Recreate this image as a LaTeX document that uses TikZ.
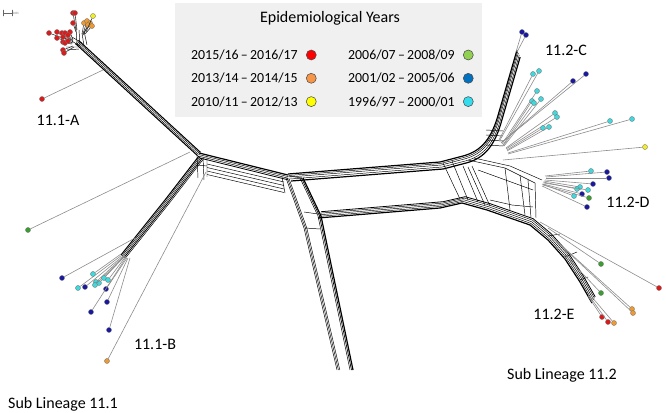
\documentclass[tikz,border=0pt]{standalone}
\usepackage{fontspec}
\setmainfont{Carlito}
\usepackage{tikz}
\usetikzlibrary{positioning}

\definecolor{kred}{HTML}{FF0000}
\definecolor{korange}{HTML}{F79646}
\definecolor{kyellow}{HTML}{FFFF00}
\definecolor{kgreen}{HTML}{92D050}
\definecolor{kblue}{HTML}{0070C0}
\definecolor{kcyan}{HTML}{33DDEE}
\definecolor{tred}{HTML}{DD1A1A}
\definecolor{torange}{HTML}{EE9A33}
\definecolor{tyellow}{HTML}{F2EE22}
\definecolor{tgreen}{HTML}{3A9E32}
\definecolor{tblue}{HTML}{1818A0}
\definecolor{tcyan}{HTML}{40D8DC}
\definecolor{legbg}{HTML}{F0F0F0}

\begin{document}
\begin{tikzpicture}[x=0.75pt, y=-0.75pt,
                  net/.style={line width=0.35pt, black},
                  twig/.style={line width=0.4pt, black!85},
                  leaf/.style={line width=0.45pt, black!45},
                  dot/.style={circle, draw=black!55, line width=0.25pt, inner sep=0pt, minimum size=3.8pt},
                  key/.style={circle, draw=black!70, line width=0.4pt, inner sep=0pt, minimum size=7.5pt},
                  yr/.style={font=\fontsize{10.4}{12}\selectfont, inner sep=0pt, anchor=east},
                  lab/.style={font=\fontsize{12}{14}\selectfont, inner sep=0pt},
            ]
            \useasboundingbox (0,0) rectangle (666,413);

            % ---- legend ----
            \node[fill=legbg, inner sep=0pt, minimum width=230.25pt, minimum height=85.5pt] (legend) at (328.5,60) {};
            \node[font=\fontsize{12}{14}\selectfont] (ltitle) at (330,18) {Epidemiological Years};
            \foreach \t/\c [count=\i] in {{2015/16\,--\,2016/17}/kred, {2013/14\,--\,2014/15}/korange,
                        {2010/11\,--\,2012/13}/kyellow}{
                        \node[yr] (l\i) at (298, {31.7+23.3*\i}) {\t};
                        \node[key, fill=\c, right=6pt of l\i] (lk\i) {};
                  }
            \foreach \t/\c [count=\i] in {{2006/07\,--\,2008/09}/kgreen, {2001/02\,--\,2005/06}/kblue,
                        {1996/97\,--\,2000/01}/kcyan}{
                        \node[yr] (r\i) at (455, {31.7+23.3*\i}) {\t};
                        \node[key, fill=\c, right=6pt of r\i] (rk\i) {};
                  }

            % ---- scale bar ----
            \coordinate (s0) at (3,13);
            \coordinate (s1) at (12,13);
            \draw[line width=0.3pt, black!60, |-|] (s0) -- (s1)
            node[right=0.5pt, font=\fontsize{2.5}{3}\selectfont, black!60, inner sep=0pt] (sbar) {0.01};

            % ---- bundle 11.1-A ----
            \foreach \k/\w in {-2/0.8pt, -0.7/0.35pt, 0.7/0.35pt, 2/0.8pt}{
                        \draw[net, line width=\w, shift={(\k*0.75,-\k*0.8)}] (77,42) -- (199,154);
                  }
            \draw[net] (70,40) -- (80,46);
            \draw[net] (72,37) -- (82,43);
            \draw[net] (76,28) -- (77,44) (79,30) -- (80,45);
            \draw[net] (82,33) -- (84,46) (84,31) -- (87,45);
            \draw[net] (66,47) -- (78,47) (67,50) -- (79,49);

            % ---- junction / bundle 11.1-B ----
            \draw[net] (197,155) -- (198,178) (203,157) -- (204,180) (197,165) -- (207,166);
            \foreach \k/\w in {0/0.8pt, 1.3/0.35pt, 2.6/0.35pt, 3.9/0.6pt, 5.2/0.35pt}{
                        \draw[net, line width=\w, shift={(\k*0.8,\k*0.65)}] (199,156) -- (165,200) -- (121,255);
                  }

            % ---- central bundles ----
            \foreach \k/\w in {0/0.9pt, 1.6/0.35pt, 3.2/0.35pt, 4.8/0.6pt}{
                        \draw[net, line width=\w] (199,{153+\k}) -- (288,{175+\k});
                  }
            \foreach \k in {0,3.5,7,10.5}{
                        \draw[net] (207,{164+\k}) -- (284,{182+\k});
                  }
            \draw[net] (207,156) -- (207,177) (282,177) -- (285,193);
            % vertical branch
            \foreach \k/\w in {0/0.35pt, 1.4/0.35pt, 2.8/0.35pt}{
                        \draw[net, line width=\w, shift={(\k,0)}] (286,178) -- (304,228) -- (337,370);
                  }
            \foreach \k/\w in {0/0.35pt, 1.5/0.5pt, 3/0.9pt}{
                        \draw[net, line width=\w, shift={(\k,0)}] (300,178) -- (318,216) -- (350,370);
                  }
            \draw[net] (304,212) -- (318,214) (305,228) -- (320,229) (288,176) -- (302,178);

            % ---- upper bundle to 11.2-C ----
            \foreach \k/\w in {0/0.9pt, 1.5/0.35pt, 3/0.35pt, 5/0.35pt, 7/0.9pt}{
                        \draw[net, line width=\w, shift={(\k*0.45,\k)}] (288,174) -- (440,162) -- (463,156)
                        .. controls (482,151) and (492,138) .. (499,112) -- (517,50);
                  }
            \foreach \y in {130,135,140,145}{
                        \draw[net] (486,\y) -- (503,{\y+1});
                  }

            % ---- lower bundle to 11.2-D / 11.2-E ----
            \foreach \k/\w in {0/0.9pt, 1.8/0.35pt, 3.6/0.35pt, 5.4/0.35pt, 7/0.6pt}{
                        \draw[net, line width=\w, shift={(\k*0.45,-\k*0.9)}] (318,218) -- (440,208) -- (462,203)
                        -- (487,210) -- (530,225) -- (548,240) -- (565,259) -- (580,282) -- (592,303);
                  }
            % splits between the two bundles
            \draw[net] (443,163) -- (460,199) (452,161) -- (468,200) (463,166) -- (478,202)
            (468,167) -- (485,205) (472,166) -- (490,206);
            \draw[net] (468,160) -- (505,168) -- (535,183) -- (536,218);
            \draw[net] (474,158) -- (510,166) -- (542,180);
            \draw[net] (505,168) -- (510,210) (520,175) -- (525,215) (528,180) -- (531,218);
            \draw[net] (478,170) -- (533,190) (490,200) -- (512,205) -- (533,207);
            \draw[net] (548,236) -- (560,234) (565,257) -- (577,252) (580,280) -- (588,277);

            % ---- tips 11.1-A ----
            \foreach \ox/\oy/\px/\py/\c [count=\n] in {
                        76/30/73/13/tred, 77/30/75/13/tred, 76/32/73/23/tred, 68/40/49/33/tred,
                        68/40/57/32/tred, 70/40/62/33/tred, 71/40/65/33/tred, 73/40/70/32/tred,
                        73/41/68/35/tred, 69/42/57/38/tred, 70/42/63/37/tred, 72/43/63/42/tred,
                        72/44/65/43/tred, 73/43/68/41/tred, 73/46/63/50/tred, 74/47/64/53/tred,
                        82/34/84/23/torange, 83/34/87/21/torange, 84/33/90/23/torange,
                        83/35/88/25/torange, 85/34/92/26/torange, 86/32/93/16/tyellow}{
                        \node[dot, fill=\c] (a\n) at (\px,\py) {};
                        \coordinate (ao\n) at (\ox,\oy);
                        \draw[twig] (ao\n) -- (a\n);
                  }
            \node[dot, fill=tred] (alone) at (42,99) {};
            \coordinate (aloneo) at (103,70);
            \draw[leaf] (aloneo) -- (alone);

            % ---- tips 11.1-B ----
            \foreach \ox/\oy/\px/\py/\c [count=\n] in {
                        135/238/62/278/tblue, 122/255/78/288/tcyan, 123/256/85/287/tblue,
                        121/254/93/274/tcyan, 124/256/96/282/tcyan, 125/256/99/283/tcyan,
                        124/257/95/285/tcyan, 125/255/104/278/tcyan, 126/256/108/280/tcyan,
                        127/258/106/289/tblue, 128/258/107/302/tblue, 125/259/91/312/tblue,
                        130/258/109/330/tblue, 190/152/28/230/tgreen, 206/172/107/361/torange}{
                        \node[dot, fill=\c] (b\n) at (\px,\py) {};
                        \coordinate (bo\n) at (\ox,\oy);
                        \draw[leaf] (bo\n) -- (b\n);
                  }

            % ---- tips 11.2-C ----
            \foreach \ox/\oy/\px/\py/\c [count=\n] in {
                        516/52/522/32/tblue, 517/52/526/35/tblue, 499/140/533/74/tcyan,
                        500/140/539/71/tcyan, 501/143/573/81/tblue, 502/142/586/74/tblue,
                        502/144/537/91/tcyan, 503/145/532/101/tcyan, 503/146/534/103/tcyan,
                        504/146/541/99/tcyan, 506/148/555/113/tcyan, 506/149/557/117/tcyan,
                        507/150/543/128/tcyan, 507/151/549/127/tcyan, 508/153/610/121/tcyan,
                        508/154/632/119/tcyan, 503/160/645/147/tyellow}{
                        \node[dot, fill=\c] (c\n) at (\px,\py) {};
                        \coordinate (co\n) at (\ox,\oy);
                        \draw[leaf] (co\n) -- (c\n);
                  }

            % ---- tips 11.2-D ----
            \foreach \ox/\oy/\px/\py/\c [count=\n] in {
                        545/176/591/171/tcyan, 546/177/607/172/tblue, 546/178/609/178/tblue,
                        545/180/593/184/tblue, 544/181/580/187/tcyan, 543/182/577/189/tcyan,
                        544/183/588/190/tcyan, 542/184/574/196/tcyan, 543/184/582/194/tblue,
                        543/185/589/198/tgreen, 542/186/587/207/tblue}{
                        \node[dot, fill=\c] (d\n) at (\px,\py) {};
                        \coordinate (do\n) at (\ox,\oy);
                        \draw[leaf] (do\n) -- (d\n);
                  }

            % ---- tips 11.2-E ----
            \foreach \ox/\oy/\px/\py/\c [count=\n] in {
                        540/222/659/288/tred, 548/228/601/264/tgreen, 552/237/632/309/torange,
                        553/238/633/313/torange, 565/255/601/293/tgreen, 588/296/602/317/tred,
                        590/297/608/322/tred, 591/296/614/323/torange}{
                        \node[dot, fill=\c] (e\n) at (\px,\py) {};
                        \coordinate (eo\n) at (\ox,\oy);
                        \draw[leaf] (eo\n) -- (e\n);
                  }

            % ---- labels ----
            \node[lab] (labA) at (58,120) {11.1-A};
            \node[lab] (labB) at (155,344) {11.1-B};
            \node[lab] (labC) at (566,50) {11.2-C};
            \node[lab] (labD) at (628,202) {11.2-D};
            \node[lab] (labE) at (554,314) {11.2-E};
            \node[lab] (sub1) at (63,404) {Sub Lineage 11.1};
            \node[lab] (sub2) at (562,375) {Sub Lineage 11.2};

      \end{tikzpicture}
\end{document}
